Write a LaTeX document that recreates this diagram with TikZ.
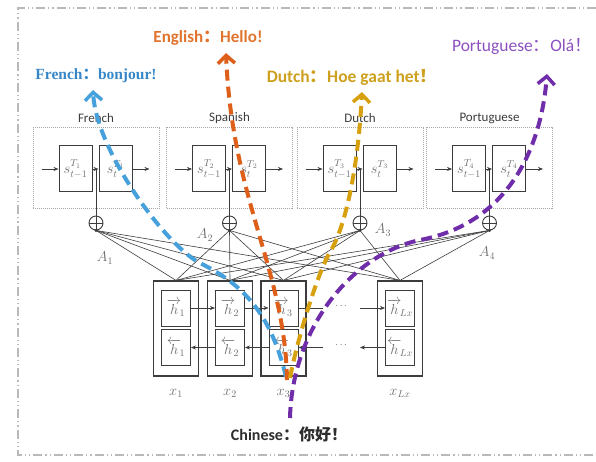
\documentclass[tikz,border=0pt]{standalone}
\usepackage{fontspec}
\usepackage{amsmath}
\usetikzlibrary{arrows.meta,calc}
\newfontfamily\cjk{Noto Sans CJK SC}
\newfontfamily\calibri{Carlito}
\newfontfamily\timesf{Liberation Serif}

\definecolor{frblue}{RGB}{70,160,220}
\definecolor{frtext}{RGB}{55,135,200}
\definecolor{enorange}{RGB}{222,95,25}
\definecolor{entext}{RGB}{225,115,45}
\definecolor{dugold}{RGB}{215,160,15}
\definecolor{dutext}{RGB}{205,160,30}
\definecolor{ptpurple}{RGB}{112,45,170}
\definecolor{pttext}{RGB}{140,80,190}
\definecolor{cntext}{RGB}{45,45,45}
\definecolor{ink}{RGB}{60,60,60}
\definecolor{soft}{RGB}{110,110,110}

\tikzset{
  frameline/.style={draw=gray!55, line width=1.4pt,
    dash pattern=on 9pt off 3pt on 1.2pt off 3pt on 1.2pt off 3pt},
  decbox/.style={draw=gray!70, densely dotted, line width=1pt,
    minimum width=126pt, minimum height=81pt, inner sep=0pt},
  scell/.style={draw=ink, line width=1pt, minimum width=33pt,
    minimum height=46pt, inner sep=0pt, text=soft, font=\Large},
  title/.style={font=\calibri\fontsize{13}{15}\selectfont, text=ink},
  oplus/.style={circle, draw=ink, line width=0.9pt, minimum size=14pt,
    inner sep=0pt,
    path picture={\draw[ink, line width=0.9pt]
      (path picture bounding box.north) -- (path picture bounding box.south)
      (path picture bounding box.west) -- (path picture bounding box.east);}},
  encbox/.style={draw=ink, line width=1.2pt, minimum width=45pt,
    minimum height=95pt, inner sep=0pt},
  hcell/.style={draw=ink, line width=1pt, minimum width=29pt,
    minimum height=36pt, inner sep=0pt, text=soft, font=\Large},
  thin/.style={draw=ink, line width=0.6pt},
  sarrow/.style={thin, -{Stealth[length=5pt,width=4pt]}},
  mlabel/.style={text=soft, font=\Large},
  flow/.style={line width=4pt, dash pattern=on 11pt off 6pt,
    -{Straight Barb[length=8pt,width=17pt,line width=3.5pt]}},
}

\begin{document}
\begin{tikzpicture}[x=1pt,y=-1pt]
\useasboundingbox (0,0) rectangle (596,462);

% page frame
\draw[frameline] (596,8) -- (18,8) -- (18,455) -- (596,455);

% decoder blocks, one per target language
\foreach \i/\cx/\lang in {1/96/French,2/229.5/Spanish,3/360/Dutch,4/489.5/Portuguese}{
  \node[decbox] (d\i) at (\cx,168.5) {};
  \node[title] (t\i) at (\cx,118) {\lang};
  \node[scell] (p\i) at (\cx-20.5,169) {$s^{T_{\i}}_{t-1}$};
  \node[scell] (c\i) at (\cx+19.5,169) {$s^{T_{\i}}_{t}$};
  \draw[sarrow] ([xshift=-17pt]p\i.west) -- (p\i.west);
  \draw[sarrow] (p\i.east) -- (c\i.west);
  \draw[sarrow] (c\i.east) -- ([xshift=17pt]c\i.east);
  \node[oplus] (o\i) at (\cx,223) {};
  \draw[thin] (o\i.north) -- (o\i.north |- p\i.east);
}

% attention labels
\node[mlabel] (a1) at (105,258) {$A_1$};
\node[mlabel] (a2) at (205,235) {$A_2$};
\node[mlabel] (a3) at (383,230) {$A_3$};
\node[mlabel] (a4) at (487,253) {$A_4$};

% bidirectional encoder
\foreach \i/\cx/\sub in {1/176/1,2/230/2,3/283.5/3,4/400/{Lx}}{
  \node[encbox] (e\i) at (\cx,328.5) {};
  \node[hcell] (f\i) at (\cx,308) {$\overrightarrow{h}_{\!\sub}$};
  \node[hcell] (b\i) at (\cx,347.5) {$\overleftarrow{h}_{\!\sub}$};
  \node[mlabel] (x\i) at (\cx,393) {$x_{\sub}$};
}

% forward chain
\draw[sarrow] (f1.east) -- (f2.west);
\draw[sarrow] (f2.east) -- (f3.west);
\coordinate (fa) at (323,308);
\coordinate (fb) at (360,308);
\draw[thin] (f3.east) -- (fa);
\node[text=soft] (fdots) at (342,306) {$\cdots$};
\draw[sarrow] (fb) -- (f4.west);

% backward chain
\draw[sarrow] (b2.west) -- (b1.east);
\draw[sarrow] (b3.west) -- (b2.east);
\coordinate (ba) at (323,347.5);
\coordinate (bb) at (360,347.5);
\draw[sarrow] (ba) -- (b3.east);
\node[text=soft] (bdots) at (342,345.5) {$\cdots$};
\draw[sarrow] (b4.west) -- (bb);

% every encoder state feeds every attention sum
\foreach \e in {1,2,3,4}{
  \foreach \o in {1,2,3,4}{
    \draw[thin] (e\e.north) -- (o\o.south);
  }
}
\foreach \o in {1,2,3,4}{ \fill[ink] (o\o.south) circle (1.6pt); }

% sentence labels
\node[font=\timesf\bfseries\fontsize{15.5}{18}\selectfont, text=frtext] (frl) at (96,76)
  {French{\cjk ：}bonjour!};
\node[font=\calibri\bfseries\fontsize{17}{20}\selectfont, text=entext] (enl) at (208,38)
  {English{\cjk ：}Hello!};
\node[font=\calibri\bfseries\fontsize{17.5}{20}\selectfont, text=dutext] (dul) at (352,77)
  {Dutch{\cjk ：}Hoe gaat het{\cjk ！}};
\node[font=\calibri\fontsize{17.5}{20}\selectfont, text=pttext, inner sep=0pt,
  anchor=east] (ptl) at (592,46)
  {Portuguese{\cjk ：}Olá{\cjk ！}};
\node[font=\calibri\bfseries\fontsize{16}{19}\selectfont, text=cntext] (cnl) at (289,434)
  {Chinese{\cjk ：你好！}};

% translation paths
\coordinate (src) at (290,418);
\coordinate (sb) at (286,377);
\coordinate (so) at (287,380);
\coordinate (sg) at (290,378);
\coordinate (tipfr) at (93,90);
\coordinate (tipen) at (226,53);
\coordinate (tipdu) at (362,92);
\coordinate (tippt) at (547,74);
\coordinate (kb) at (200,263);
\coordinate (kg) at (330,252);
\coordinate (kp) at (420,240);

\draw[flow, frblue] (sb) .. controls (270,310) and (240,283) .. (kb)
  .. controls (165,245) and (96,150) .. (tipfr);
\draw[flow, enorange] (so) .. controls (285,270) and (232,200) .. (tipen);
\draw[flow, dugold] (sg) .. controls (297,340) and (318,272) .. (kg)
  .. controls (345,228) and (358,170) .. (tipdu);
\draw[flow, ptpurple] (src) .. controls (292,330) and (350,255) .. (kp)
  .. controls (500,225) and (540,160) .. (tippt);
\end{tikzpicture}
\end{document}
